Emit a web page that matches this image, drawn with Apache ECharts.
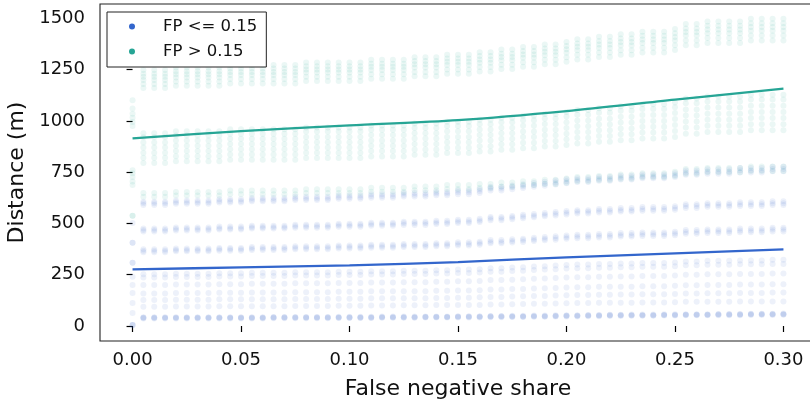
<!DOCTYPE html>
<html>
<head>
<meta charset="utf-8">
<script src="https://cdn.jsdelivr.net/npm/echarts@6/dist/echarts.min.js"></script>
<style>
  html, body { margin: 0; padding: 0; background: #fff; }
  #chart { width: 810px; height: 402px; }
</style>
</head>
<body>
<div id="chart"></div>
<script>
// x positions of the point columns (false negative share)
const xs = [0, 0.005, 0.01, 0.015, 0.02, 0.025, 0.03, 0.035, 0.04, 0.045, 0.05,
  0.055, 0.06, 0.065, 0.07, 0.075, 0.08, 0.085, 0.09, 0.095, 0.1,
  0.105, 0.11, 0.115, 0.12, 0.125, 0.13, 0.135, 0.14, 0.145, 0.15,
  0.155, 0.16, 0.165, 0.17, 0.175, 0.18, 0.185, 0.19, 0.195, 0.2,
  0.205, 0.21, 0.215, 0.22, 0.225, 0.23, 0.235, 0.24, 0.245, 0.25,
  0.255, 0.26, 0.265, 0.27, 0.275, 0.28, 0.285, 0.29, 0.295, 0.3]

// FP <= 0.15 : dense bottom row, read per column
const blueFloor = [null, 40, 40, 40, 40, 40, 40, 40, 40, 40, 40,
  40, 40, 41, 41, 41, 41, 41, 41, 42, 42,
  42, 42, 43, 43, 43, 43, 44, 44, 44, 45,
  45, 45, 46, 46, 47, 47, 48, 48, 49, 50,
  50, 51, 51, 52, 52, 53, 53, 53, 54, 54,
  55, 55, 55, 56, 56, 56, 57, 57, 57, 58]
const blueFloorOffsets = [-3, 0, 0, 3]
// FP <= 0.15 : point rows at the left end of the chart (m)
const blueRows = [94, 127, 159, 200, 237, 252,
  360, 367, 374, 461, 468, 475, 590, 598, 606]
// growth of the rows along x
const blueScale = [1.00, 1.00, 1.00, 1.00, 1.01, 1.01, 1.01, 1.01, 1.02, 1.02, 1.02,
  1.03, 1.03, 1.03, 1.03, 1.04, 1.04, 1.04, 1.04, 1.05, 1.05,
  1.05, 1.06, 1.06, 1.06, 1.07, 1.07, 1.07, 1.08, 1.08, 1.09,
  1.09, 1.10, 1.12, 1.12, 1.13, 1.14, 1.15, 1.16, 1.17, 1.18,
  1.19, 1.19, 1.20, 1.20, 1.21, 1.21, 1.22, 1.22, 1.22, 1.23,
  1.25, 1.25, 1.26, 1.26, 1.26, 1.27, 1.27, 1.27, 1.28, 1.28]
// the x = 0 column is different
const blueFirstCol = [5, 5, 5, 63, 112, 161, 200, 240, 309, 309, 406, 406, 502]

// FP > 0.15
const tealRows = [630, 648, 795, 820, 845, 870, 895, 920, 940,
  1160, 1180, 1200, 1215, 1230, 1248]
const tealScale = [1.00, 1.00, 1.00, 1.00, 1.01, 1.01, 1.01, 1.01, 1.01, 1.02, 1.02,
  1.02, 1.02, 1.02, 1.02, 1.02, 1.03, 1.03, 1.03, 1.03, 1.03,
  1.03, 1.04, 1.04, 1.04, 1.04, 1.05, 1.05, 1.05, 1.06, 1.06,
  1.06, 1.07, 1.07, 1.08, 1.08, 1.09, 1.09, 1.10, 1.10, 1.11,
  1.12, 1.12, 1.13, 1.13, 1.14, 1.14, 1.15, 1.15, 1.15, 1.16,
  1.18, 1.18, 1.19, 1.19, 1.19, 1.19, 1.20, 1.20, 1.20, 1.20]
const tealFirstCol = [538, 538, 687, 705, 726, 745, 760, 975, 995, 1015, 1035, 1060, 1101]

// trend lines
const lineX = [0, 0.05, 0.1, 0.15, 0.2, 0.25, 0.3]
const blueLine = [276, 286, 296, 312, 335, 354, 374]
const tealLine = [915, 950, 978, 1004, 1048, 1104, 1157]

const xTicks = [0, 0.05, 0.1, 0.15, 0.2, 0.25, 0.3]
const yTicks = [0, 250, 500, 750, 1000, 1250, 1500]

const BLUE = '#3366cc'
const TEAL = '#26a595'

// build point lists
let bluePts = []
let tealPts = []
blueFirstCol.forEach(v => bluePts.push([xs[0], v]))
tealFirstCol.forEach(v => tealPts.push([xs[0], v]))
for (let i = 1; i < xs.length; i++) {
  blueFloorOffsets.forEach(o => bluePts.push([xs[i], blueFloor[i] + o]))
  blueRows.forEach(r => bluePts.push([xs[i], Math.round(r * blueScale[i])]))
  tealRows.forEach(r => tealPts.push([xs[i], Math.round(r * tealScale[i])]))
}

const chart = echarts.init(document.getElementById('chart'))
const option = {
  animation: false,
  textStyle: { fontFamily: 'DejaVu Sans' },
  grid: {
    left: 100, top: 4, width: 716, height: 337,
    outerBoundsMode: 'none', containLabel: false,
    show: true, borderColor: '#222', borderWidth: 1.1
  },
  legend: {
    left: 107, top: 12,
    orient: 'vertical',
    data: [
      { name: 'FP <= 0.15', itemStyle: { opacity: 1, color: BLUE } },
      { name: 'FP > 0.15', itemStyle: { opacity: 1, color: TEAL } }
    ],
    icon: 'circle',
    itemWidth: 6, itemHeight: 6, itemGap: 6,
    padding: [5, 9, 6, 22],
    borderColor: '#222', borderWidth: 1, borderRadius: 0,
    backgroundColor: '#fff',
    textStyle: { fontSize: 16.5, color: '#111', padding: [0, 0, 0, 23], lineHeight: 19 }
  },
  xAxis: {
    type: 'value',
    min: -0.015, max: 0.315,
    name: 'False negative share',
    nameLocation: 'middle', nameGap: 37,
    nameTextStyle: { fontSize: 22, color: '#111' },
    axisLine: { show: false },
    axisTick: { show: true, length: 6, lineStyle: { color: '#000', width: 1.2 }, customValues: xTicks },
    axisLabel: { fontSize: 18, color: '#111', margin: 10, customValues: xTicks,
      formatter: v => v.toFixed(2) },
    splitLine: { show: false }
  },
  yAxis: {
    type: 'value',
    min: -73, max: 1570,
    name: 'Distance (m)',
    nameLocation: 'middle', nameGap: 72,
    nameTextStyle: { fontSize: 22, color: '#111' },
    axisLine: { show: false },
    axisTick: { show: true, length: 6, lineStyle: { color: '#000', width: 1.2 }, customValues: yTicks },
    axisLabel: { fontSize: 18, color: '#111', margin: 15, customValues: yTicks,
      formatter: v => String(v) },
    splitLine: { show: false }
  },
  series: [
    {
      name: 'FP <= 0.15', type: 'scatter', data: bluePts,
      symbolSize: 6, itemStyle: { color: BLUE, opacity: 0.09 }, z: 2
    },
    {
      name: 'FP > 0.15', type: 'scatter', data: tealPts,
      symbolSize: 6, itemStyle: { color: TEAL, opacity: 0.09 }, z: 2
    },
    {
      name: 'trend low', type: 'line', smooth: 0.3, showSymbol: false,
      data: lineX.map((x, i) => [x, blueLine[i]]),
      lineStyle: { color: BLUE, width: 2.3 }, z: 5
    },
    {
      name: 'trend high', type: 'line', smooth: 0.3, showSymbol: false,
      data: lineX.map((x, i) => [x, tealLine[i]]),
      lineStyle: { color: TEAL, width: 2.3 }, z: 5
    }
  ]
}
chart.setOption(option)
</script>
</body>
</html>
